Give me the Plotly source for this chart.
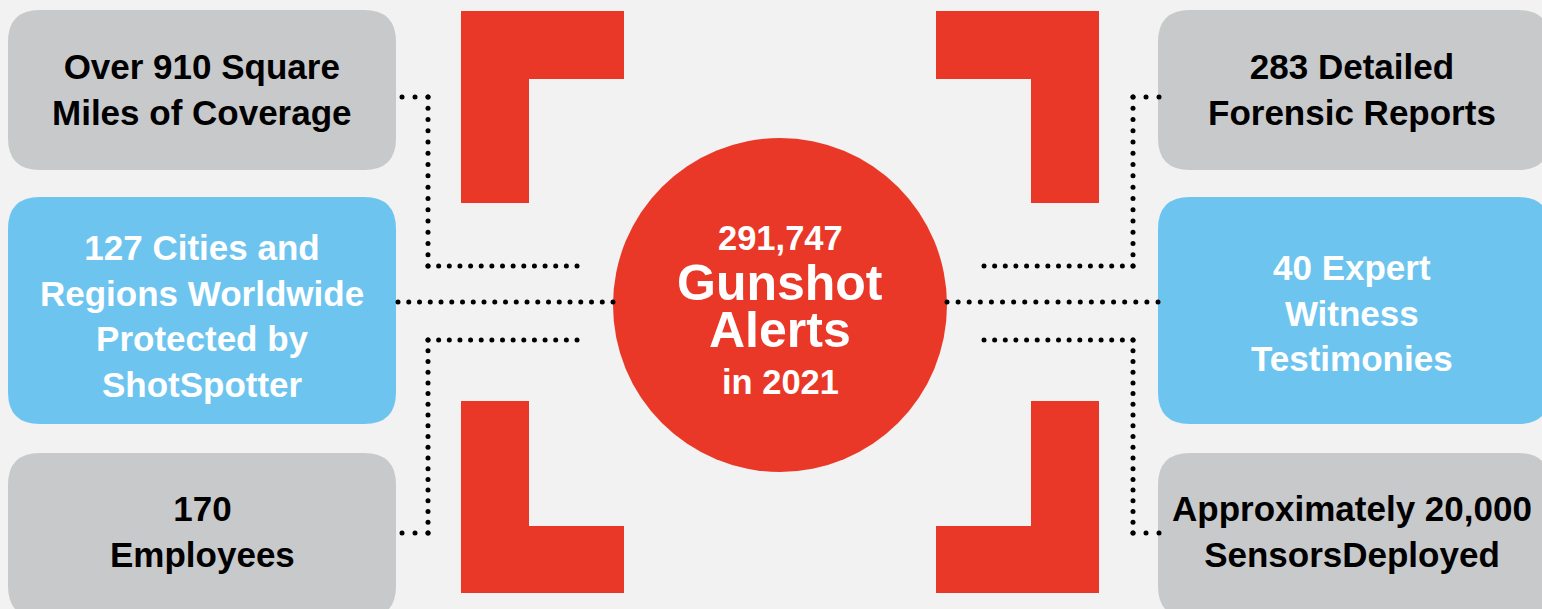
import numpy as np
import plotly.graph_objects as go

# ---------------------------------------------------------------------------
# Content
# ---------------------------------------------------------------------------

left_labels = [
    "Over 910 Square<br>Miles of Coverage",
    "127 Cities and<br>Regions Worldwide<br>Protected by<br>ShotSpotter",
    "170<br>Employees",
]
right_labels = [
    "283 Detailed<br>Forensic Reports",
    "40 Expert<br>Witness<br>Testimonies",
    "Approximately 20,000<br>SensorsDeployed",
]
alert_count = "291,747"
alert_words = ["Gunshot", "Alerts"]
alert_year = "in 2021"

# ---------------------------------------------------------------------------
# Palette / geometry (pixel space, y grows downward)
# ---------------------------------------------------------------------------

W, H = 1542, 609
BG = "#f1f2f1"
RED = "#ea3828"
GREY = "#c8c9cb"
BLUE = "#6dc5ef"
FONT = "Liberation Sans, Arial, sans-serif"

box_rows = [(10, 170), (197, 424), (453, 618)]
box_fill = [GREY, BLUE, GREY]
box_ink = ["black", "white", "black"]
left_x = (8, 396)
right_x = (1158, 1550)
left_text_y = [89, 316, 531]
right_text_y = [89, 313, 531]

fig = go.Figure()


def rounded_rect(x0, y0, x1, y1, r):
    return (f"M{x0+r},{y0} L{x1-r},{y0} Q{x1},{y0} {x1},{y0+r} "
            f"L{x1},{y1-r} Q{x1},{y1} {x1-r},{y1} L{x0+r},{y1} "
            f"Q{x0},{y1} {x0},{y1-r} L{x0},{y0+r} Q{x0},{y0} {x0+r},{y0} Z")


shapes = []
for (y0, y1), fill in zip(box_rows, box_fill):
    for x0, x1 in (left_x, right_x):
        shapes.append(dict(type="path", path=rounded_rect(x0, y0, x1, y1, 32),
                           fillcolor=fill, line_width=0, layer="below"))

# red corner brackets
corners = [
    "M461,11 L624,11 L624,79 L529,79 L529,203 L461,203 Z",
    "M461,401 L529,401 L529,526 L624,526 L624,593 L461,593 Z",
    "M936,11 L1099,11 L1099,203 L1031,203 L1031,79 L936,79 Z",
    "M1031,401 L1099,401 L1099,593 L936,593 L936,526 L1031,526 Z",
]
for p in corners:
    shapes.append(dict(type="path", path=p, fillcolor=RED, line_width=0, layer="below"))

shapes.append(dict(type="circle", x0=613, x1=947, y0=138, y1=472,
                   fillcolor=RED, line_width=0, layer="below"))

# dotted connectors
paths = [
    [(402, 97), (428, 97), (428, 266), (577, 266)],
    [(398, 302), (613, 302)],
    [(577, 340), (428, 340), (428, 533), (402, 533)],
    [(1159, 97), (1133, 97), (1133, 266), (984, 266)],
    [(947, 302), (1158, 302)],
    [(984, 340), (1133, 340), (1133, 533), (1159, 533)],
]
dx, dy = [], []
for pts in paths:
    for (xa, ya), (xb, yb) in zip(pts[:-1], pts[1:]):
        n = int(round(np.hypot(xb - xa, yb - ya) / 11.0)) + 1
        dx.extend(np.linspace(xa, xb, n))
        dy.extend(np.linspace(ya, yb, n))
fig.add_trace(go.Scatter(x=dx, y=dy, mode="markers", hoverinfo="skip",
                         marker=dict(size=5, color="black"), showlegend=False))

annotations = []
for label, y, ink in zip(left_labels, left_text_y, box_ink):
    annotations.append(dict(x=202, y=y, text=label, font=dict(color=ink)))
for label, y, ink in zip(right_labels, right_text_y, box_ink):
    annotations.append(dict(x=1352, y=y, text=label, font=dict(color=ink)))
for a in annotations:
    a["font"].update(family=FONT, size=35, weight="bold")

annotations.append(dict(x=780, y=238, text=alert_count,
                        font=dict(family=FONT, size=34.5, color="white", weight="bold")))
for word, y in zip(alert_words, [283, 330]):
    annotations.append(dict(x=780, y=y, text=word,
                            font=dict(family=FONT, size=50, color="white", weight="bold")))
annotations.append(dict(x=780, y=382, text=alert_year,
                        font=dict(family=FONT, size=34.5, color="white", weight="bold")))
for a in annotations:
    a.update(xref="x", yref="y", showarrow=False, xanchor="center", yanchor="middle")

fig.update_layout(
    width=W, height=H,
    margin=dict(l=0, r=0, t=0, b=0),
    paper_bgcolor=BG, plot_bgcolor=BG,
    xaxis=dict(range=[0, W], visible=False, fixedrange=True),
    yaxis=dict(range=[H, 0], visible=False, fixedrange=True),
    shapes=shapes,
    annotations=annotations,
)

fig.write_html("out.html", config={"displayModeBar": False},
               post_script="document.body.style.margin='0';document.body.style.overflow='hidden';")
